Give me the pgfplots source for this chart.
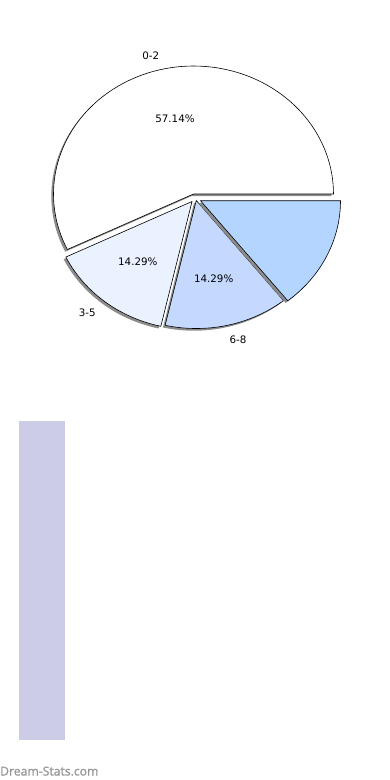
\documentclass[border=0pt]{standalone}
\usepackage{pgfplots}
\pgfplotsset{compat=1.18}
\usepackage{fontspec}
\setmainfont{DejaVu Sans}
\newfontfamily\wmfont[FakeBold=1.2]{Open Sans}
\definecolor{cA}{RGB}{255,255,255}
\definecolor{cB}{RGB}{235,242,255}
\definecolor{cC}{RGB}{197,217,255}
\definecolor{cD}{RGB}{179,213,255}
\definecolor{barc}{RGB}{204,204,230}
\definecolor{wm}{RGB}{150,150,150}
\definecolor{shd}{RGB}{140,140,140}
% slice counts
\def\vA{4}\def\vB{1}\def\vC{1}\def\vD{1}
% #1 apex x, #2 apex y, #3 shadow x, #4 shadow y, #5 start, #6 end, #7 fill
\newcommand\slice[7]{%
  \addplot[draw=none, fill=shd, domain=#5:#6, samples=90, variable=\t]
    ({#3+140*cos(\t)},{#4-128*sin(\t)}) -- (axis cs:#3,#4) -- cycle;
  \addplot[draw=black, line width=0.6pt, fill=#7, domain=#5:#6, samples=90, variable=\t]
    ({#1+140*cos(\t)},{#2-128*sin(\t)}) -- (axis cs:#1,#2) -- cycle;
}
\begin{document}
\begin{tikzpicture}
\path[use as bounding box] (0,0) rectangle (390pt,780pt);
\pgfmathsetmacro\tot{\vA+\vB+\vC+\vD}
\pgfmathsetmacro\aA{360*\vA/\tot}
\pgfmathsetmacro\aB{360*(\vA+\vB)/\tot}
\pgfmathsetmacro\aC{360*(\vA+\vB+\vC)/\tot}
\begin{axis}[at={(0,0)}, anchor=south west, width=390pt, height=780pt, scale only axis,
  hide axis, xmin=0, xmax=390, ymin=0, ymax=780, y dir=reverse, clip=false]
\slice{193.5}{194}{191.3}{196.2}{0}{\aA}{cA}
\slice{192}{201.5}{189.8}{203.7}{\aA}{\aB}{cB}
\slice{196.3}{200.5}{194.1}{202.7}{\aB}{\aC}{cC}
\slice{200.5}{200.7}{198.3}{202.9}{\aC}{360}{cD}
\begin{scope}[every node/.style={inner sep=0pt, font=\fontsize{10.3}{12}\selectfont}]
\node at (axis cs:150.8,56) {0-2};
\node at (axis cs:175,118.7) {57.14\%};
\node at (axis cs:137.8,262.2) {14.29\%};
\node at (axis cs:213.7,278.8) {14.29\%};
\node at (axis cs:87.2,312.5) {3-5};
\node at (axis cs:238,339.5) {6-8};
\end{scope}
\node[anchor=base west, inner sep=0pt, font=\wmfont\fontsize{12.2}{14}\selectfont, text=wm] at (axis cs:0,775.5) {Dream-Stats.com};
\end{axis}
\begin{axis}[at={(19pt,40pt)}, anchor=south west, width=46pt, height=319pt, scale only axis,
  hide axis, xmin=-0.5, xmax=0.5, ymin=0, ymax=7]
\addplot[ybar, bar width=46pt, fill=barc, draw=none] coordinates {(0,7)};
\end{axis}
\end{tikzpicture}
\end{document}
